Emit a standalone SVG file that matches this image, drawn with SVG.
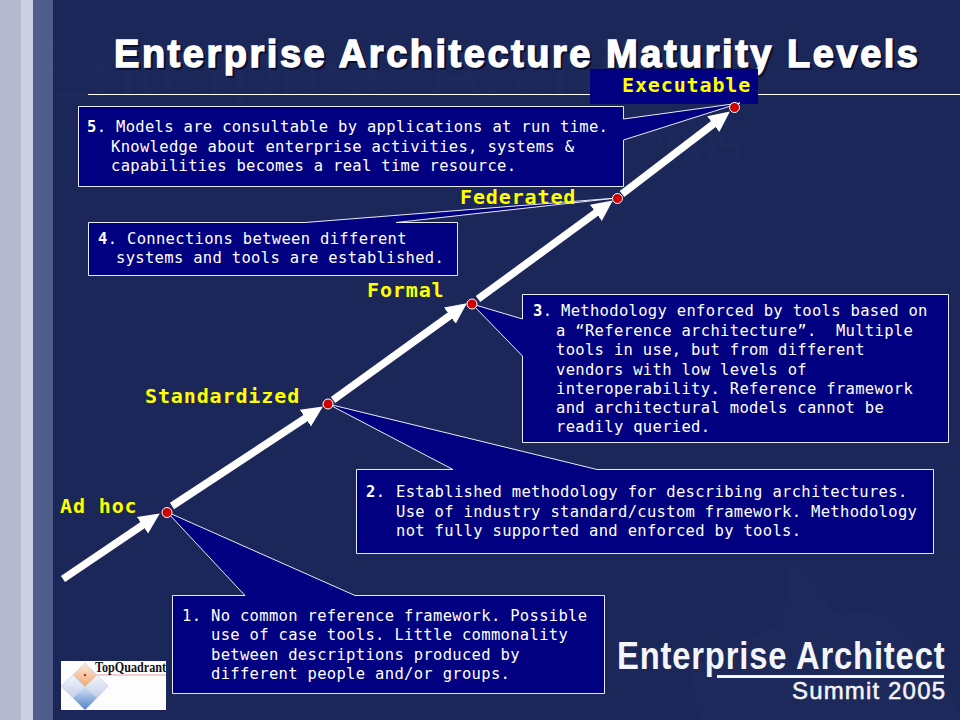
<svg xmlns="http://www.w3.org/2000/svg" width="960" height="720" viewBox="0 0 960 720">
<style>
.box{fill:#000080;stroke:#e8ebf5;stroke-width:1;stroke-linejoin:miter}
.t{font-family:"DejaVu Sans Mono","Liberation Mono",monospace;font-size:15.5px;letter-spacing:.32px;fill:#fff}
.n{font-weight:bold}
.lab{font-family:"DejaVu Sans Mono","Liberation Mono",monospace;font-size:20px;font-weight:bold;letter-spacing:.88px;fill:#ff0}
.dot{fill:#d00000;stroke:#fff;stroke-width:1}
.arr{stroke:#fff;stroke-width:7.5;fill:none;marker-end:url(#ah)}
.wm{font-family:"Liberation Sans",Arial,sans-serif;fill:#1e295b}
.ea{font-family:"Liberation Sans",Arial,sans-serif;fill:#f4f5f8}
.ttl{font-family:"Liberation Sans",Arial,sans-serif;font-size:38px;font-weight:bold;stroke-width:1.4}
</style>
<defs>
<marker id="ah" markerUnits="userSpaceOnUse" markerWidth="30" markerHeight="30" refX="6" refY="12" orient="auto"><path d="M0,2 L21,12 L0,22 Z" fill="#fff"/></marker>
<linearGradient id="d1" x1="0" y1="0" x2="0" y2="1"><stop offset="0" stop-color="#fbeadc"/><stop offset="1" stop-color="#f0a870"/></linearGradient>
<linearGradient id="d2" x1="0" y1="0" x2="0" y2="1"><stop offset="0" stop-color="#f4f6fb"/><stop offset="1" stop-color="#c2cee8"/></linearGradient>
<linearGradient id="d3" x1="0" y1="0" x2="0" y2="1"><stop offset="0" stop-color="#d6e0f2"/><stop offset="1" stop-color="#4f82c8"/></linearGradient>
</defs>
<g id="background">
<rect width="960" height="720" fill="#1c2759"/>
<text class="wm" x="36" y="98" font-size="82">Enterprise Architect</text>
<text class="wm" x="640" y="164" font-size="46">2005</text>
<path d="M770,720 C778,660 785,620 790,560 C820,590 850,610 860,720 Z M690,670 C740,640 780,615 880,610 C920,640 950,670 960,720 L700,720 Z" fill="#1e295b"/>
<rect x="0" width="21" height="720" fill="#b6bace"/>
<rect x="21" width="12" height="720" fill="#cdd0e0"/>
<rect x="33" width="20" height="720" fill="#505c8a"/>
</g>
<g id="title">
<text class="ttl" x="116" y="69" fill="#0b1030" stroke="#0b1030" textLength="804" lengthAdjust="spacing">Enterprise Architecture Maturity Levels</text>
<text class="ttl" x="114" y="67" fill="#fff" stroke="#fff" textLength="804" lengthAdjust="spacing">Enterprise Architecture Maturity Levels</text>
<line x1="88" y1="94.500" x2="960" y2="94.500" stroke="#fff" stroke-width="1"/>
</g>
<g id="level-5">
<rect x="590" y="69" width="168" height="35" fill="#000080"/>
<path class="box" d="M78.500,106.500 H623.500 V119 L740,103 L623.500,140 V186.500 H78.500 Z"/>
<text class="lab" x="622" y="92">Executable</text>
<text class="t" x="87" y="132"><tspan class="n">5</tspan>.</text>
<text class="t" x="116" y="132">Models are consultable by applications at run time.</text>
<text class="t" x="111" y="151.500">Knowledge about enterprise activities, systems &amp;</text>
<text class="t" x="111" y="171">capabilities becomes a real time resource.</text>
</g>
<g id="level-4">
<path class="box" d="M88.500,222.500 H305 L617,198 L396,222.500 H457.500 V275.500 H88.500 Z"/>
<text class="lab" x="460" y="204">Federated</text>
<text class="t" x="98" y="244"><tspan class="n">4</tspan>.</text>
<text class="t" x="127" y="244">Connections between different</text>
<text class="t" x="116" y="263">systems and tools are established.</text>
</g>
<g id="level-3">
<path class="box" d="M522.500,319 L472,304 L522.500,356 V442.500 H948.500 V294.500 H522.500 Z"/>
<text class="lab" x="367" y="297">Formal</text>
<text class="t" x="533" y="316"><tspan class="n">3</tspan>.</text>
<text class="t" x="561" y="316">Methodology enforced by tools based on</text>
<text class="t" x="556" y="335.500" xml:space="preserve">a “Reference architecture”.  Multiple</text>
<text class="t" x="556" y="355">tools in use, but from different</text>
<text class="t" x="556" y="374.500">vendors with low levels of</text>
<text class="t" x="556" y="394">interoperability. Reference framework</text>
<text class="t" x="556" y="413">and architectural models cannot be</text>
<text class="t" x="556" y="432">readily queried.</text>
</g>
<g id="level-2">
<path class="box" d="M356.500,469.500 H453 L328,404 L597,469.500 H933.500 V553.500 H356.500 Z"/>
<text class="lab" x="145" y="403">Standardized</text>
<text class="t" x="366" y="497"><tspan class="n">2</tspan>.</text>
<text class="t" x="396" y="497">Established methodology for describing architectures.</text>
<text class="t" x="396" y="516.500">Use of industry standard/custom framework. Methodology</text>
<text class="t" x="396" y="536">not fully supported and enforced by tools.</text>
</g>
<g id="level-1">
<path class="box" d="M172.500,595.500 H245 L167,512 L355,595.500 H604.500 V693.500 H172.500 Z"/>
<text class="lab" x="60" y="513">Ad hoc</text>
<text class="t" x="182" y="621">1.</text>
<text class="t" x="211" y="621">No common reference framework. Possible</text>
<text class="t" x="211" y="640">use of case tools. Little commonality</text>
<text class="t" x="211" y="660">between descriptions produced by</text>
<text class="t" x="211" y="679">different people and/or groups.</text>
</g>
<g id="connectors">
<line class="arr" x1="63" y1="579" x2="147.400" y2="521.800"/>
<line class="arr" x1="172" y1="506" x2="310.400" y2="414.800"/>
<line class="arr" x1="333" y1="400" x2="454.700" y2="312.100"/>
<line class="arr" x1="478" y1="299" x2="600.700" y2="209.300"/>
<line class="arr" x1="622" y1="194" x2="718" y2="120.500"/>
</g>
<g id="dots">
<circle class="dot" cx="167" cy="512.500" r="5"/>
<circle class="dot" cx="328" cy="404" r="5"/>
<circle class="dot" cx="472" cy="304" r="5"/>
<circle class="dot" cx="617.500" cy="198.500" r="5"/>
<circle class="dot" cx="734.500" cy="107.500" r="5"/>
</g>
<g id="logo-topquadrant">
<rect x="61" y="661" width="105" height="49" fill="#fdfdfe"/>
<line x1="85" y1="675" x2="166" y2="675" stroke="#e2a0a0" stroke-width="1"/>
<path d="M85,663 L97,675 L85,687 L73,675 Z" fill="url(#d1)" stroke="#c8cede" stroke-width=".7"/>
<path d="M73,675 L85,687 L73,698 L61,686 Z" fill="url(#d2)" stroke="#c8cede" stroke-width=".7"/>
<path d="M97,675 L108,686 L97,698 L85,687 Z" fill="url(#d2)" stroke="#c8cede" stroke-width=".7"/>
<path d="M85,687 L97,698 L85,710 L73,698 Z" fill="url(#d3)"/>
<circle cx="85" cy="675" r="1.200" fill="#c03030"/>
<text x="95" y="672" font-family="'Liberation Serif',serif" font-size="14" font-weight="bold" fill="#111" textLength="71" lengthAdjust="spacingAndGlyphs">TopQuadrant</text>
</g>
<g id="logo-ea">
<text class="ea" transform="translate(617,669) scale(.84,1)" font-size="39" font-weight="bold" textLength="389" lengthAdjust="spacing" letter-spacing="-1">Enterprise Architect</text>
<rect x="717" y="675" width="227" height="3" fill="#f4f5f8"/>
<text class="ea" x="792" y="699" font-size="24" stroke="#f4f5f8" stroke-width=".5" textLength="153" lengthAdjust="spacing">Summit 2005</text>
</g>
</svg>
